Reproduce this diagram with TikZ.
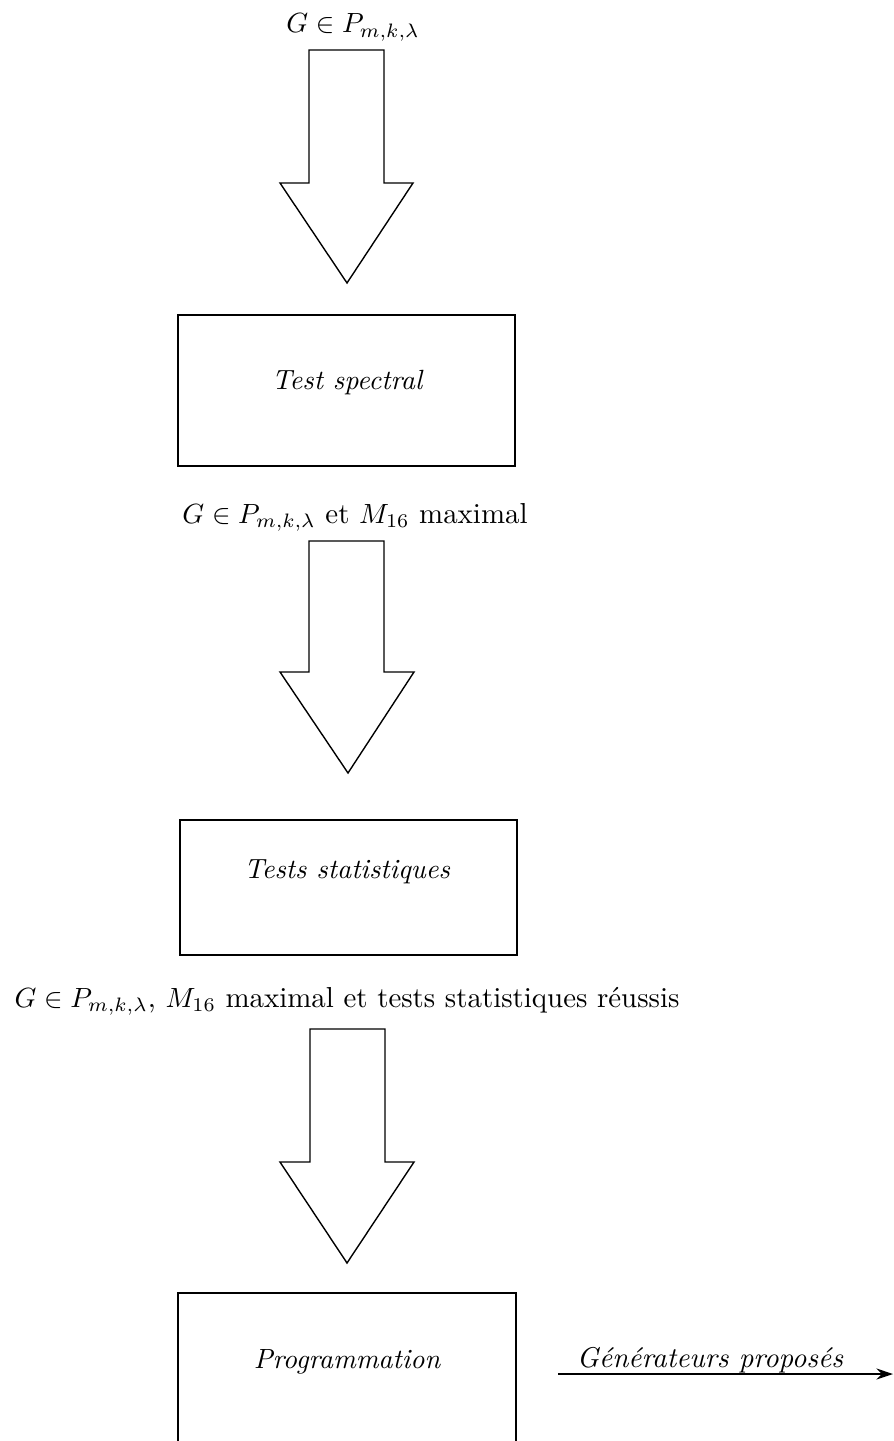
\documentclass[tikz,border=0pt]{standalone}
\usetikzlibrary{arrows.meta}
\begin{document}
\begin{tikzpicture}[x=0.36pt,y=-0.36pt,
  line width=0.5pt,
  blockarrow/.style={draw=black,fill=white,line join=miter},
  lbl/.style={anchor=base,inner sep=0pt,font=\normalsize},
  widelbl/.style={anchor=base,inner sep=0pt,font=\fontsize{10.4pt}{12.5pt}\selectfont},
  boxtext/.style={inner sep=0pt,font=\itshape}]
\useasboundingbox (0,0) rectangle (893,1441);
\clip (0,0) rectangle (893,1441);

% labels
\node[lbl] (l1) at (353,33) {$G\in P_{m,k,\lambda}$};
\node[widelbl] (l2) at (355,523) {$G\in P_{m,k,\lambda}$ et $M_{16}$ maximal};
\node[widelbl] (l3) at (347,1007) {$G\in P_{m,k,\lambda}$, $M_{16}$ maximal et tests statistiques réussis};

% block arrows
\draw[blockarrow] (309,50) -- (384,50) -- (384,183) -- (413,183) -- (347,283) -- (280,183) -- (309,183) -- cycle;
\draw[blockarrow] (309,541) -- (384,541) -- (384,672) -- (414,672) -- (348,773) -- (280,672) -- (309,672) -- cycle;
\draw[blockarrow] (310,1029) -- (385,1029) -- (385,1162) -- (414,1162) -- (347,1263) -- (280,1162) -- (310,1162) -- cycle;

% boxes
\draw (178,315) rectangle (515,466);
\node[boxtext,anchor=base] (b1) at (347,390) {Test spectral};
\draw (180,820) rectangle (517,955);
\node[boxtext,anchor=base] (b2) at (347,878) {Tests statistiques};
\draw (178,1500) -- (178,1293) -- (516,1293) -- (516,1500);
\node[boxtext,anchor=base] (b3) at (347,1368) {Programmation};

% output arrow
\coordinate (o1) at (558,1374);
\coordinate (o2) at (893,1374);
\draw[-{Stealth[length=6pt,width=4pt]}] (o1) -- (o2);
\node[boxtext,anchor=base,font=\fontsize{10.3pt}{12pt}\selectfont\itshape] (out) at (710,1367) {Générateurs proposés};
\end{tikzpicture}
\end{document}
